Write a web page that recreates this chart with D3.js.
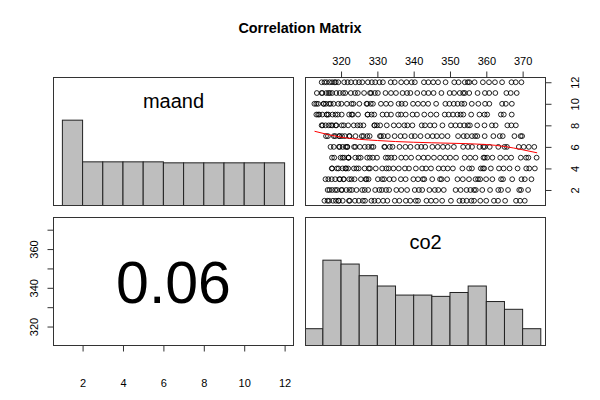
<!DOCTYPE html>
<html><head><meta charset="utf-8">
<script src="https://cdn.jsdelivr.net/npm/d3@7"></script>
<style>
body{margin:0;background:#fff;}
svg{display:block;font-family:"Liberation Sans",Arial,Helvetica,sans-serif;}
</style></head>
<body><svg id="c" width="600" height="400"></svg>
<script>
// ---- data: monthly CO2 (ppm) by month number, successive years ----
const jan=[315.42,316.27,316.73,317.78,318.58,319.41,319.27,320.46,322.17,322.40,323.83,324.89,326.01,326.60,328.37,329.18,330.23,331.58,332.75,334.80,336.05,337.84,339.06,340.57,341.20,343.52,344.79,346.11,347.84,350.25,352.60,353.50,354.59,355.88,356.63,358.34,359.98,362.09,363.23,365.18,368.18,369.29,370.59];
const feb=[316.31,316.81,317.54,318.40,318.92,320.07,320.28,321.43,322.34,322.99,324.26,325.82,326.51,327.47,329.40,330.55,331.25,332.39,333.24,335.22,336.59,338.19,340.30,341.44,342.35,344.33,345.82,346.78,348.29,351.54,352.92,354.55,355.63,356.63,357.10,358.89,361.03,363.29,364.06,365.98,369.07,369.55,371.51];
const mar=[315.71,316.50,317.42,318.38,319.53,319.70,320.74,320.73,322.23,322.88,323.73,325.47,326.77,327.01,327.58,330.14,331.32,331.87,333.33,334.53,336.47,337.79,339.91,341.21,342.53,342.93,345.11,347.25,347.68,349.23,352.05,353.53,355.23,357.03,357.72,358.32,359.95,361.66,364.06,364.61,367.13,369.68,370.60,372.43];
const apr=[317.45,317.56,318.87,319.31,320.42,321.22,321.40,321.97,323.54,324.25,324.86,326.50,327.97,327.62,329.56,331.33,332.48,333.14,334.41,335.90,337.59,338.71,340.60,342.33,343.39,344.77,346.88,348.17,349.37,350.80,353.41,355.26,356.04,358.48,359.07,359.41,361.25,363.48,364.76,366.40,368.61,370.99,371.82,373.37];
const may=[317.50,318.13,319.87,320.42,320.85,322.08,322.06,322.00,323.91,324.83,325.40,327.21,327.91,328.76,329.90,332.31,332.92,333.80,334.71,336.57,337.84,339.30,341.29,342.74,343.96,345.58,347.25,348.74,350.03,351.66,354.04,355.52,357.00,359.22,359.58,360.23,361.67,363.82,365.45,366.84,369.49,370.96,371.58,373.85];
const jun=[317.10,318.00,319.43,319.61,320.45,321.31,321.73,321.71,323.59,323.93,325.20,326.54,327.50,328.40,328.92,331.90,332.08,333.43,334.17,336.10,337.72,339.12,341.00,342.08,343.18,345.14,346.62,348.07,349.37,351.07,353.62,354.97,356.07,358.12,359.17,359.55,360.94,363.30,365.01,365.68,368.95,370.30,371.70,373.21];
const jul=[315.86,316.39,318.01,318.42,319.45,319.58,320.27,321.05,322.24,322.38,323.98,325.72,326.18,327.20,327.88,330.70,331.01,331.73,332.89,334.76,336.37,337.56,339.39,340.32,341.88,343.81,345.22,346.38,347.76,349.33,352.22,353.75,354.67,356.06,356.94,357.53,359.55,361.94,363.70,364.52,367.74,369.45,369.86];
const aug=[314.93,314.65,315.74,316.63,317.25,317.61,318.54,318.71,320.20,320.76,321.95,323.50,324.53,325.27,326.16,329.15,329.23,329.90,330.77,332.59,334.51,335.92,337.43,338.26,339.65,342.21,343.11,344.51,345.73,347.92,350.27,351.52,352.76,353.92,354.92,355.48,357.49,359.50,361.54,362.57,365.79,366.90,368.13];
const sep=[313.20,313.68,314.00,314.83,316.11,316.05,316.54,317.66,318.48,319.10,320.18,322.22,322.93,323.20,324.68,327.35,327.27,328.40,329.14,331.42,332.60,333.75,335.72,336.52,337.81,339.69,340.90,342.92,344.68,346.27,348.55,349.64,350.82,352.05,352.94,353.67,355.84,358.11,359.51,360.24,364.01,364.81,367.00];
const oct=[312.66,313.18,313.68,315.16,315.27,315.83,316.71,317.14,317.94,319.24,320.09,321.62,322.90,323.40,325.04,327.02,327.21,328.17,328.78,330.98,332.38,333.70,335.84,336.68,337.69,339.82,341.18,342.62,343.99,346.18,348.72,349.83,351.04,352.11,353.23,353.95,356.00,357.80,359.65,360.83,364.35,365.37,367.03];
const nov=[313.33,314.66,314.84,315.94,316.53,316.91,317.53,318.70,319.63,320.56,321.16,322.69,323.85,324.63,326.34,327.99,328.29,329.32,330.14,332.24,333.75,335.12,336.93,338.19,339.09,340.98,342.80,344.06,345.48,347.64,349.91,351.14,352.69,353.64,354.09,355.30,357.59,359.61,360.80,362.49,365.52,366.72,368.37];
const dec=[314.67,315.43,316.03,316.85,317.53,318.20,318.55,319.25,320.87,321.80,322.74,323.95,324.96,325.85,327.39,328.48,329.41,330.59,331.52,333.68,334.78,336.56,338.04,339.44,340.32,342.82,344.04,345.38,346.72,348.78,351.18,352.37,354.07,354.89,355.33,356.78,359.05,360.74,362.38,364.34,366.93,368.10,369.67];
const monthSeries=[jan,feb,mar,apr,may,jun,jul,aug,sep,oct,nov,dec];

// histogram breaks and counts
const maandBreaks=[1,2,3,4,5,6,7,8,9,10,11,12];
const maandCounts=[86,44,44,44,44,43,43,43,43,43,43];
const co2Breaks=[310,315,320,325,330,335,340,345,350,355,360,365,370,375];
const co2Counts=[13,66,63,54,46,39,39,38,41,46,34,28,13];

// smoother (red line)
const smoothCo2=[312.7,320,330,340,350,360,365,370,374];
const smoothMaand=[7.45,6.9,6.59,6.43,6.34,6.22,6.04,5.73,5.45];

const corrValue="0.06";
const varNames=["maand","co2"];
const titleText="Correlation Matrix";
const maandTicks=[2,4,6,8,10,12];
const co2Ticks=[320,330,340,350,360,370];
const co2LeftLabels=[320,340,360];

// ---- drawing ----
const svg=d3.select("#c");
const colX=[[53.5,293.5],[305.5,545.5]];
const rowY=[[77.5,205.5],[217.5,345.5]];

const points=[];
monthSeries.forEach((arr,i)=>arr.forEach(v=>points.push({m:i+1,c:v})));
function ext(vals){const e=d3.extent(vals);const p=(e[1]-e[0])*0.04;return [e[0]-p,e[1]+p];}
const mDom=ext(points.map(d=>d.m));
const cDom=ext(points.map(d=>d.c));

const xM=d3.scaleLinear().domain(mDom).range(colX[0]);
const xC=d3.scaleLinear().domain(cDom).range(colX[1]);
const yM=d3.scaleLinear().domain(mDom).range([rowY[0][1],rowY[0][0]]);
const yC=d3.scaleLinear().domain(cDom).range([rowY[1][1],rowY[1][0]]);

// clip paths
const defs=svg.append("defs");
[[0,0],[1,1],[1,0]].forEach(([c,r])=>{
  defs.append("clipPath").attr("id",`clip${c}${r}`).append("rect")
    .attr("x",colX[c][0]).attr("y",rowY[r][0])
    .attr("width",colX[c][1]-colX[c][0]).attr("height",rowY[r][1]-rowY[r][0]);
});

// title
svg.append("text").attr("x",300).attr("y",33).attr("text-anchor","middle")
  .attr("font-weight","bold").attr("font-size",14.4).text(titleText);

// histogram helper
function hist(c,r,xs,breaks,counts){
  const mx=d3.max(counts);
  const yh=d3.scaleLinear().domain([0,1.5]).range([rowY[r][1],rowY[r][0]]);
  svg.append("g").attr("clip-path",`url(#clip${c}${r})`)
    .selectAll("rect").data(counts).join("rect")
    .attr("x",(d,i)=>xs(breaks[i]))
    .attr("width",(d,i)=>xs(breaks[i+1])-xs(breaks[i]))
    .attr("y",d=>yh(d/mx))
    .attr("height",d=>yh(0)-yh(d/mx))
    .attr("fill","#bebebe").attr("stroke","#222").attr("stroke-width",1);
}
hist(0,0,xM,maandBreaks,maandCounts);
hist(1,1,xC,co2Breaks,co2Counts);

// scatter (top right): x = co2, y = maand
svg.append("g").selectAll("circle").data(points).join("circle")
  .attr("cx",d=>xC(d.c)).attr("cy",d=>yM(d.m)).attr("r",2.4)
  .attr("fill","none").attr("stroke","#000").attr("stroke-width",0.85);
// smoother
const sm=smoothCo2.map((v,i)=>[v,smoothMaand[i]]);
svg.append("path").datum(sm).attr("clip-path","url(#clip10)")
  .attr("d",d3.line().x(d=>xC(d[0])).y(d=>yM(d[1])).curve(d3.curveMonotoneX))
  .attr("fill","none").attr("stroke","#ff0000").attr("stroke-width",1);

// correlation text (bottom left)
svg.append("text").attr("x",(colX[0][0]+colX[0][1])/2).attr("y",(rowY[1][0]+rowY[1][1])/2)
  .attr("dy","0.36em").attr("text-anchor","middle").attr("font-size",59).text(corrValue);

// diagonal labels
svg.append("text").attr("x",(colX[0][0]+colX[0][1])/2).attr("y",rowY[0][0]+23)
  .attr("dy","0.36em").attr("text-anchor","middle").attr("font-size",20).text(varNames[0]);
svg.append("text").attr("x",(colX[1][0]+colX[1][1])/2).attr("y",rowY[1][0]+24)
  .attr("dy","0.36em").attr("text-anchor","middle").attr("font-size",20).text(varNames[1]);

// panel boxes
[[0,0],[1,0],[0,1],[1,1]].forEach(([c,r])=>{
  svg.append("rect").attr("x",colX[c][0]).attr("y",rowY[r][0])
    .attr("width",colX[c][1]-colX[c][0]).attr("height",rowY[r][1]-rowY[r][0])
    .attr("fill","none").attr("stroke","#333").attr("stroke-width",1);
});

// axes
function styleAxis(g){g.select(".domain").remove();g.selectAll("line").attr("stroke","#333");g.selectAll("text").attr("font-size",11).attr("fill","#000").attr("font-family","Liberation Sans, Arial, sans-serif");}
// bottom: maand
svg.append("g").attr("transform",`translate(0,${rowY[1][1]})`)
  .call(d3.axisBottom(xM).tickValues(maandTicks).tickSize(6).tickPadding(28))
  .call(styleAxis);
// top: co2
svg.append("g").attr("transform",`translate(0,${rowY[0][0]})`)
  .call(d3.axisTop(xC).tickValues(co2Ticks).tickSize(6).tickPadding(7))
  .call(styleAxis);
// right: maand (rotated labels)
const gr=svg.append("g").attr("transform",`translate(${colX[1][1]},0)`)
  .call(d3.axisRight(yM).tickValues(maandTicks).tickSize(6))
  .call(styleAxis);
gr.selectAll(".tick text").attr("x",null).attr("dy","0.36em").attr("text-anchor","middle")
  .attr("transform","translate(29.5,0) rotate(-90)");
// left: co2 (rotated labels, every other labelled)
const gl=svg.append("g").attr("transform",`translate(${colX[0][0]},0)`)
  .call(d3.axisLeft(yC).tickValues(co2Ticks).tickSize(6)
    .tickFormat(d=>co2LeftLabels.includes(d)?String(d):""))
  .call(styleAxis);
gl.selectAll(".tick text").attr("x",null).attr("dy","0.36em").attr("text-anchor","middle")
  .attr("transform","translate(-19,0) rotate(-90)");
</script></body></html>
